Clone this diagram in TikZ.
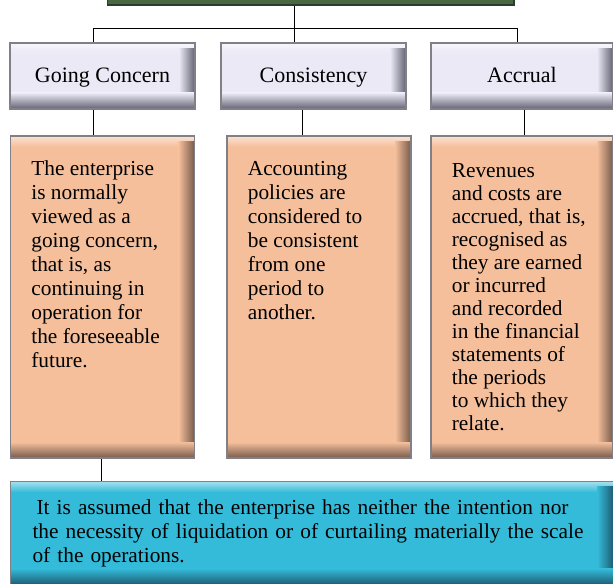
\documentclass[tikz,border=0pt]{standalone}
\usepackage{fontspec}
\setmainfont{Liberation Serif}
\definecolor{head_fill}{RGB}{234,233,245}
\definecolor{head_dark}{RGB}{98,97,114}
\definecolor{body_fill}{RGB}{245,191,156}
\definecolor{body_dark}{RGB}{118,90,74}
\definecolor{base_fill}{RGB}{52,187,217}
\definecolor{base_dark}{RGB}{30,92,115}
\definecolor{top_green}{RGB}{72,104,66}
\definecolor{top_dark}{RGB}{45,58,45}
\definecolor{frame_gray}{RGB}{128,128,134}
\newcommand{\headfont}{\fontsize{16.5}{18}\selectfont}
\newcommand{\boxfont}{\fontsize{16}{18}\selectfont}

\tikzset{bevel/.style 2 args={path picture={
  \fill[#1] (path picture bounding box.south west) rectangle (path picture bounding box.north east);
  \shade[top color=white!55!#1, bottom color=#1] (path picture bounding box.north west) rectangle ([yshift=-8pt]path picture bounding box.north east);
  \shade[left color=#1, right color=#2] ([xshift=-12pt,yshift=-4pt]path picture bounding box.north east) rectangle (path picture bounding box.south east);
  \shade[top color=#1, bottom color=#2] ([yshift=12pt]path picture bounding box.south west) rectangle (path picture bounding box.south east);
}}}

\begin{document}
\begin{tikzpicture}[x=0.75pt,y=-0.75pt,semithick]
    \tikzstyle{topbox}=[draw=top_dark, line width=1pt, fill=top_green, minimum width=305pt, minimum height=37.5pt]
    \tikzstyle{head}=[draw=frame_gray, line width=0.8pt, bevel={head_fill}{head_dark}, minimum width=138.75pt, minimum height=49.5pt, inner sep=0pt, text height=13pt, text depth=2.5pt, font=\headfont]
    \tikzstyle{body}=[draw=frame_gray, line width=0.8pt, bevel={body_fill}{body_dark}, minimum width=138pt, minimum height=241.5pt, inner sep=0pt]
    \tikzstyle{bodytext}=[anchor=north west, align=left, inner sep=0pt, font=\boxfont, xshift=15.75pt, yshift=-19.2pt]
    \tikzstyle{base}=[draw=frame_gray, line width=0.8pt, bevel={base_fill}{base_dark}, anchor=north west, align=left, text width=419pt, inner xsep=16.5pt, minimum height=77.25pt, font=\boxfont]

    \useasboundingbox (0,0) rectangle (613,584);
    \clip (0,0) rectangle (613,584);

    \node[topbox] (topBox) at (310.5,-20) {};

    \node[head] (gcHead)   at (102.5,76) {Going Concern};
    \node[head] (consHead) at (313.5,76) {Consistency};
    \node[head, minimum width=136.5pt] (accHead) at (522,76) {Accrual};

    \node[body] (gcBody)   at (102.5,297) {};
    \node[body] (consBody) at (319,297)   {};
    \node[body, minimum width=136.5pt] (accBody) at (522,297) {};
    \node[bodytext, yshift=0.8pt] (gcText) at (gcBody.north west)
      {The enterprise\\ is normally\\ viewed as a\\ going concern,\\ that is, as\\ continuing in\\ operation for\\ the foreseeable\\ future.};
    \node[bodytext] (consText) at (consBody.north west)
      {Accounting\\ policies are\\ considered to\\ be consistent\\ from one\\ period to\\ another.};
    \node[bodytext, font=\fontsize{16}{17.25}\selectfont, yshift=-1.6pt] (accText) at (accBody.north west)
      {Revenues\\ and costs are\\ accrued, that is,\\ recognised as\\ they are earned\\ or incurred\\ and recorded\\ in the financial\\ statements of\\ the periods\\ to which they\\ relate.};

    \node[base] (baseBox) at (10,481)
      {\hspace*{3pt}It is assumed that the enterprise has neither the intention nor\\ the necessity of liquidation or of curtailing materially the scale\\ of the operations.};

    % wire points
    \coordinate (split)    at (294,28);
    \coordinate (gcJoint)  at (93,28);
    \coordinate (accJoint) at (517,28);
    \coordinate (gcDrop)   at (93,0);
    \coordinate (consDrop) at (302,0);
    \coordinate (accDrop)  at (524,0);
    \coordinate (baseDrop) at (101,0);

    \path[draw]
     (split |- topBox.south) edge (split)
     (gcJoint) edge (accJoint)
     (gcJoint) edge (gcJoint |- gcHead.north)
     (split) edge (split |- consHead.north)
     (accJoint) edge (accJoint |- accHead.north)
     (gcDrop |- gcHead.south) edge (gcDrop |- gcBody.north)
     (consDrop |- consHead.south) edge (consDrop |- consBody.north)
     (accDrop |- accHead.south) edge (accDrop |- accBody.north)
     (baseDrop |- gcBody.south) edge (baseDrop |- baseBox.north)
     ;
\end{tikzpicture}
\end{document}
